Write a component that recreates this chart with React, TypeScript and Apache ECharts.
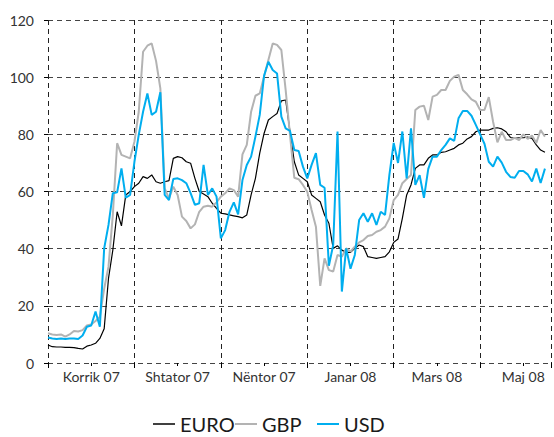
import React, { useEffect, useRef } from "react";
import * as echarts from "echarts";

// Month tick labels (x axis in months since 1 June 2007)
const monthLabels = [
  "", "Korrik 07", "", "Shtator 07", "", "Nëntor 07",
  "", "Janar 08", "", "Mars 08", "", "Maj 08",
];
const X_MAX = 11.64;
const STEP = 0.1; // months between readings

const euro = [
  6.3, 5.7, 5.6, 5.6, 5.5, 5.5, 5.4, 5.1, 4.9, 5.9,
  6.3, 6.9, 8.6, 12, 29.6, 39.5, 52.9, 48, 58.8, 60,
  61.7, 62.9, 65.2, 64.6, 65.8, 63.4, 62.9, 63.4, 63.8, 71.6,
  72.2, 71.8, 70.4, 69.9, 64.6, 60, 59.1, 58.2, 55.9, 54.1,
  52.4, 52.2, 51.8, 51.5, 51.2, 50.8, 51.8, 58.8, 64.6, 73.4,
  80.3, 85, 86.2, 87.3, 91.7, 92, 81, 70.4, 65.8, 64.6,
  63.4, 58.8, 57.6, 56.4, 51.8, 48.9, 40.1, 41, 39.5, 38.7,
  38.7, 40.1, 41.3, 40.7, 37.2, 36.9, 36.6, 36.9, 37.2, 38.9,
  42.2, 43.4, 50.6, 58.8, 62.3, 68.1, 69.3, 69.3, 71.6, 72.8,
  72.8, 73.7, 73.9, 74.5, 75.1, 76.3, 76.9, 78.4, 79.2, 80.9,
  81.5, 81.5, 81.5, 82.1, 82.3, 81.9, 80.9, 78.9, 78.6, 78.8,
  78.8, 79, 78.6, 76.3, 74.5, 73.7,
];

const gbp = [
  10.4, 10, 9.8, 10, 9.2, 10, 11.2, 11, 11.5, 13.1,
  13.5, 14.7, 16.2, 26, 33.7, 51.8, 76.9, 72.8, 72.2, 71.6,
  77.4, 87.9, 108.9, 111, 111.8, 105.7, 96.1, 61.1, 57.6, 61.7,
  58.8, 51.2, 49.7, 47.1, 48.5, 52.9, 54.7, 55, 54.7, 56.2,
  58.2, 59.4, 61.1, 60.5, 58.2, 73, 76.3, 87.9, 93.5, 94.3,
  100.2, 106, 111.8, 111.3, 109.5, 95.5, 79.8, 64.8, 64.3, 62.3,
  59.9, 53.5, 47.7, 27, 36.6, 32.5, 32, 37.8, 37.2, 40.1,
  39, 40.7, 42.2, 43, 44.4, 44.8, 45.9, 46.5, 47.7, 50.6,
  57, 58.8, 62.9, 64.4, 65.8, 88.5, 89.7, 90, 85, 93.2,
  93.8, 95.5, 95.5, 98.7, 100.2, 100.8, 95.5, 94, 92.2, 91.4,
  88.5, 88.5, 93, 84.4, 77.2, 80.9, 78, 78, 78.8, 78,
  80, 78.4, 79.6, 77, 81.5, 79.2,
];

const usd = [
  8.9, 8.6, 8.4, 8.6, 8.4, 8.6, 8.6, 8.4, 9.6, 12.7,
  13.1, 18, 12.7, 40.1, 48.3, 59.4, 59.7, 68.1, 57.8, 58.8,
  70.4, 79.8, 87.9, 94.3, 86.8, 87.9, 94.7, 58.8, 57, 64.4,
  64.6, 64, 62.9, 59.4, 55.3, 55.9, 69.3, 58.8, 61.1, 58.2,
  43.6, 46.5, 52.9, 56.2, 52, 64, 69.3, 72.2, 79.2, 86.8,
  100.5, 105.4, 102.5, 101.3, 86.2, 82.1, 81.2, 74.5, 74.2, 68.7,
  64.6, 69.3, 73.4, 62.3, 61.3, 34, 41.3, 81, 25, 40.1,
  33, 37.8, 50, 52.4, 49.4, 52.4, 48.3, 52.9, 51.8, 65.8,
  77, 70, 81, 64.6, 82.1, 62.3, 65.7, 57.8, 67.9, 72.2,
  72.2, 74.5, 76.3, 78.6, 77.7, 85.6, 88.2, 88.2, 86.5, 83.3,
  80, 76.7, 70.4, 68.7, 72.2, 70.1, 66.9, 65.1, 64.8, 67.2,
  67.2, 66, 63.5, 68, 63, 68,
];

const seriesDefs = [
  { name: "EURO", values: euro, color: "#000000", width: 1.2 },
  { name: "GBP", values: gbp, color: "#b3b3b3", width: 2 },
  { name: "USD", values: usd, color: "#00aeef", width: 2 },
];

const legendLefts = [153, 235, 317];

const FONT = "Lato, 'Open Sans', sans-serif";

export default function App() {
  const ref = useRef<HTMLDivElement>(null);

  useEffect(() => {
    if (!ref.current) return;
    const chart = echarts.init(ref.current, undefined, { renderer: "svg" });
    const option = {
      animation: false,
      grid: { left: 48, right: 2, top: 20, bottom: 74, containLabel: false },
      xAxis: [
        {
          type: "value",
          min: 0,
          max: X_MAX,
          interval: 1,
          position: "bottom",
          axisLine: { show: false },
          axisTick: { show: true, length: 3, lineStyle: { color: "#000", width: 1 } },
          splitLine: { show: false },
          axisLabel: {
            show: true,
            margin: 6,
            fontFamily: FONT,
            fontSize: 14,
            color: "#333",
            formatter: (v: number) => {
              const i = Math.round(v);
              return Math.abs(v - i) < 1e-6 && monthLabels[i] ? monthLabels[i] : "";
            },
          },
        },
        {
          type: "value",
          min: 0,
          max: X_MAX,
          interval: 2,
          position: "bottom",
          axisLine: { show: false },
          axisTick: { show: true, length: 5, lineStyle: { color: "#000", width: 1 } },
          axisLabel: { show: false },
          splitLine: {
            show: true,
            showMinLine: true,
            showMaxLine: true,
            lineStyle: { color: "#222", width: 1, type: [5, 4] },
          },
        },
      ],
      yAxis: {
        type: "value",
        min: 0,
        max: 120,
        interval: 20,
        axisLine: { show: false },
        axisTick: { show: true, length: 4, lineStyle: { color: "#000", width: 1 } },
        axisLabel: { margin: 14, fontFamily: FONT, fontSize: 14, color: "#333" },
        splitLine: {
          show: true,
          lineStyle: { color: "#444", width: 1, type: [5, 4] },
        },
      },
      legend: seriesDefs.map((s, i) => ({
        data: [s.name],
        left: legendLefts[i],
        top: 413,
        padding: 0,
        icon: "rect",
        itemWidth: 22,
        itemHeight: i === 0 ? 1.5 : 2,
        selectedMode: false,
        textStyle: { fontFamily: FONT, fontSize: 20, lineHeight: 22, color: "#1a1a1a" },
      })),
      series: seriesDefs.map((s) => ({
        name: s.name,
        type: "line",
        xAxisIndex: 0,
        showSymbol: false,
        symbol: "none",
        color: s.color,
        lineStyle: { color: s.color, width: s.width },
        data: s.values.map((v, k) => [k * STEP, v]),
      })),
    };
    chart.setOption(option);
    return () => chart.dispose();
  }, []);

  return (
    <div
      ref={ref}
      style={{ position: "fixed", left: 0, top: 0, width: 554, height: 437, background: "#fff" }}
    />
  );
}
